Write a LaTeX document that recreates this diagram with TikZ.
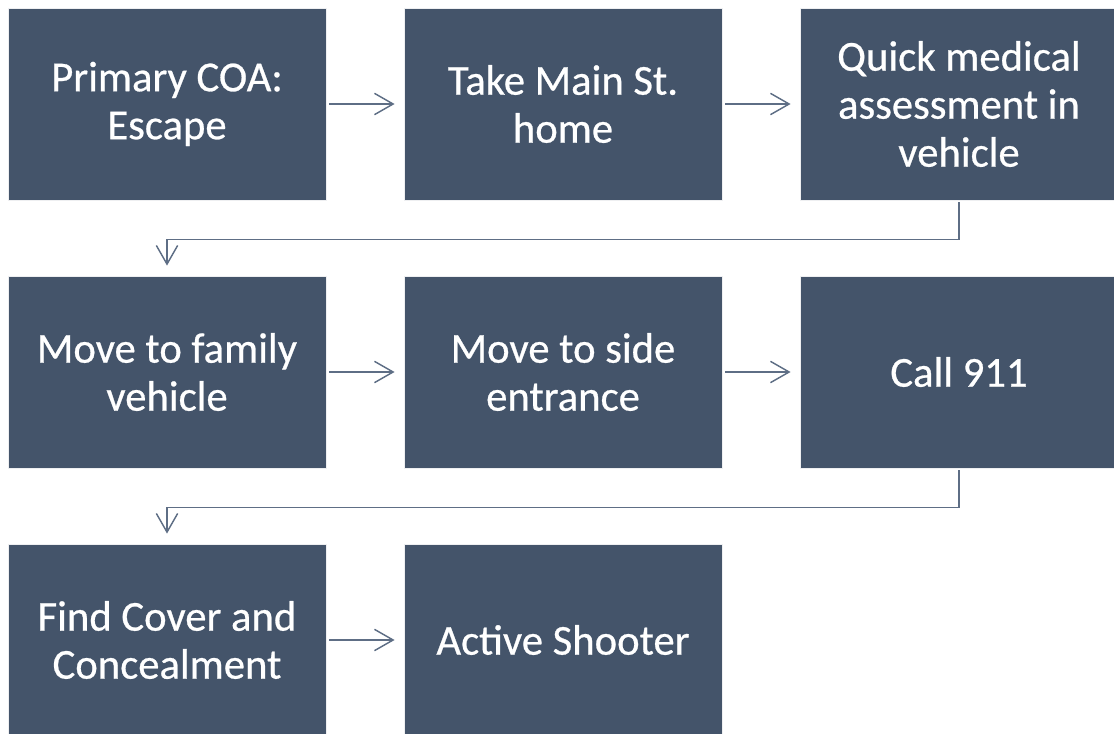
\documentclass[tikz,border=0pt]{standalone}
\usepackage{fontspec}
\setmainfont{Carlito}[FakeBold=0.6]
\usetikzlibrary{arrows.meta}
\definecolor{boxfill}{HTML}{44546A}
\definecolor{connc}{HTML}{5E6E85}
\definecolor{edgec}{HTML}{EEEFF1}
\tikzset{
  stepbox/.style={rectangle, fill=boxfill, draw=edgec, line width=0.6pt,
    minimum width=318*0.75pt, minimum height=192*0.75pt, inner sep=0pt,
    text=white, align=center, font=\fontsize{32}{36}\selectfont},
  conn/.style={draw=connc, line width=1.1pt,
    -{Straight Barb[length=14pt,width=16pt,line width=1.1pt]}}
}
\begin{document}
\begin{tikzpicture}[x=0.75pt,y=-0.75pt]
\useasboundingbox (0,0) rectangle (1114,734);
\node[stepbox] (b1) at (167,104) {Primary COA:\\Escape};
\node[stepbox] (b2) at (563,104) {Take Main St.\\home};
\node[stepbox] (b3) at (959,104) {Quick medical\\assessment in\\vehicle};
\node[stepbox] (b4) at (167,372) {Move to family\\vehicle};
\node[stepbox] (b5) at (563,372) {Move to side\\entrance};
\node[stepbox] (b6) at (959,372) {Call 911};
\node[stepbox] (b7) at (167,640) {Find Cover and\\Concealment};
\node[stepbox] (b8) at (563,640) {Active Shooter};
\draw[conn, shorten <=3*0.75pt, shorten >=9*0.75pt] (b1) -- (b2);
\draw[conn, shorten <=3*0.75pt, shorten >=9*0.75pt] (b2) -- (b3);
\draw[conn, shorten <=3*0.75pt, shorten >=9*0.75pt] (b4) -- (b5);
\draw[conn, shorten <=3*0.75pt, shorten >=9*0.75pt] (b5) -- (b6);
\draw[conn, shorten <=3*0.75pt, shorten >=9*0.75pt] (b7) -- (b8);
\draw[conn, shorten <=2*0.75pt, shorten >=10*0.75pt] (b3.south) -- ++(0,39) -| (b4.north);
\draw[conn, shorten <=2*0.75pt, shorten >=10*0.75pt] (b6.south) -- ++(0,39) -| (b7.north);
\end{tikzpicture}
\end{document}
